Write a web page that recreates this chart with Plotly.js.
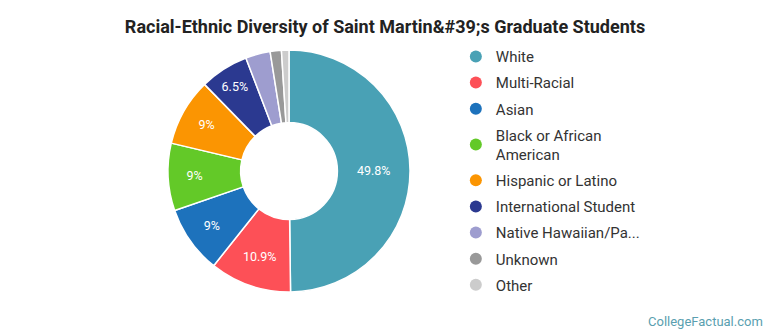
<!DOCTYPE html>
<html>
<head>
<meta charset="utf-8">
<script src="https://cdn.plot.ly/plotly-3.0.1.min.js"></script>
<style>html,body{margin:0;padding:0;background:#fff;}#chart{width:770px;height:335px;}</style>
</head>
<body>
<div id="chart"></div>
<script>
var categories = ["White", "Multi-Racial", "Asian", "Black or African American", "Hispanic or Latino", "International Student", "Native Hawaiian/Pacific Islander", "Unknown", "Other"];
var legendLabels = ["White", "Multi-Racial", "Asian", "Black or African<br>American", "Hispanic or Latino", "International Student", "Native Hawaiian/Pa...", "Unknown", "Other"];
var values = [49.8, 10.9, 9, 9, 9, 6.5, 3.3, 1.5, 1.0];
var colors = ["#49a1b5", "#fd5057", "#1d72bc", "#63c928", "#fb9502", "#2b3990", "#9e9dcf", "#999999", "#cccccc"];

var sliceText = values.map(function (v) { return v >= 5 ? v + "%" : ""; });

var traces = [{
  type: "pie",
  labels: categories,
  values: values,
  text: sliceText,
  textinfo: "text",
  textposition: "inside",
  insidetextorientation: "horizontal",
  insidetextfont: {family: "Roboto, sans-serif", size: 12.5, color: "#ffffff"},
  hole: 0.4,
  sort: false,
  direction: "clockwise",
  rotation: 0,
  marker: {colors: colors, line: {color: "#ffffff", width: 1.5}},
  showlegend: false,
  domain: {x: [0.2182, 0.5325], y: [0.128, 0.851]},
  hoverinfo: "label+percent"
}];

categories.forEach(function (c, i) {
  traces.push({
    type: "scatter",
    mode: "markers",
    x: [null], y: [null],
    name: legendLabels[i],
    legendgroup: "g" + i,
    marker: {symbol: "circle", size: 17, color: colors[i]},
    showlegend: true,
    hoverinfo: "skip"
  });
});

var layout = {
  width: 770, height: 335,
  margin: {l: 0, r: 0, t: 0, b: 0},
  paper_bgcolor: "#ffffff",
  plot_bgcolor: "#ffffff",
  title: {
    text: "Racial-Ethnic Diversity of Saint Martin&#38;#39;s Graduate Students",
    font: {family: "Roboto, sans-serif", size: 18, color: "#222222", weight: "bold"},
    x: 0.5, xanchor: "center", y: 0.92, yanchor: "middle"
  },
  xaxis: {visible: false, range: [0, 1], domain: [0.99, 1]},
  yaxis: {visible: false, range: [0, 1], domain: [0.99, 1]},
  legend: {
    x: 0.592, xanchor: "left", y: 0.88, yanchor: "top",
    font: {family: "Roboto, sans-serif", size: 15, color: "#333333"},
    tracegroupgap: 3.6,
    itemsizing: "constant",
    bgcolor: "rgba(0,0,0,0)"
  },
  annotations: [{
    text: "CollegeFactual.com",
    xref: "paper", yref: "paper", x: 0.993, y: 0.04, xanchor: "right", yanchor: "middle",
    showarrow: false,
    font: {family: "Roboto, sans-serif", size: 13, color: "#5a9fb0"}
  }]
};

Plotly.newPlot("chart", traces, layout, {displayModeBar: false, staticPlot: true});
</script>
</body>
</html>
